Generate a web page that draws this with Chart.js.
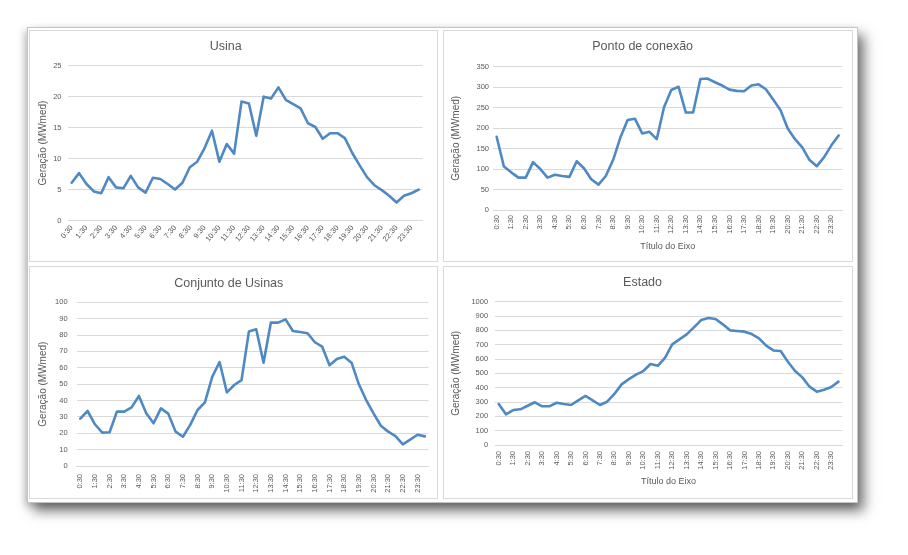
<!DOCTYPE html>
<html>
<head>
<meta charset="utf-8">
<script src="https://cdn.jsdelivr.net/npm/chart.js@4.4.1/dist/chart.umd.min.js"></script>
<style>
  html, body { margin: 0; padding: 0; background: #ffffff; }
  body { width: 908px; height: 555px; position: relative; overflow: hidden; }
  #frame {
    position: absolute; left: 27px; top: 27px; width: 831px; height: 476px;
    box-sizing: border-box; border: 1px solid #c4c4c4; background: #ffffff;
    box-shadow: 6px 8px 12px rgba(0,0,0,0.55), -3px 3px 7px rgba(0,0,0,0.18);
  }
  .panel { position: absolute; box-sizing: border-box; border: 1px solid #d9d9d9; background: #fff; }
  .panel canvas { position: absolute; left: -1px; top: -1px; }
</style>
</head>
<body>
<div id="frame"></div>
<div class="panel" style="left:29px;top:30px;width:409px;height:232px;"><canvas id="c1" width="409" height="232"></canvas></div>
<div class="panel" style="left:443px;top:30px;width:410px;height:232px;"><canvas id="c2" width="410" height="232"></canvas></div>
<div class="panel" style="left:29px;top:266px;width:409px;height:233px;"><canvas id="c3" width="409" height="233"></canvas></div>
<div class="panel" style="left:443px;top:266px;width:410px;height:233px;"><canvas id="c4" width="410" height="233"></canvas></div>
<script>
// ---- data ----
const timeLabels = ['0:30','1:00','1:30','2:00','2:30','3:00','3:30','4:00','4:30','5:00','5:30','6:00',
  '6:30','7:00','7:30','8:00','8:30','9:00','9:30','10:00','10:30','11:00','11:30','12:00',
  '12:30','13:00','13:30','14:00','14:30','15:00','15:30','16:00','16:30','17:00','17:30','18:00',
  '18:30','19:00','19:30','20:00','20:30','21:00','21:30','22:00','22:30','23:00','23:30','24:00'];

const usina = [6.1,7.65,5.9,4.7,4.4,7.0,5.35,5.2,7.2,5.35,4.5,6.9,6.7,5.9,5.0,6.1,8.6,9.5,11.7,14.5,9.5,12.35,10.8,19.2,
  18.9,13.7,20.0,19.7,21.5,19.5,18.8,18.1,15.7,15.1,13.2,14.1,14.1,13.3,10.9,8.9,7.0,5.7,4.9,4.0,2.9,4.0,4.4,5.0];

const pontoConexao = [179,106,92,79,79,117,100,79,86,83,81,119,102,75,62,83,122,177,220,223,187,191,173,251,
  293,301,238,238,320,321,312,304,294,291,290,304,307,295,270,244,199,173,153,122,107,129,158,182];

const conjuntoUsinas = [28.9,33.6,25.5,20.4,20.6,33.2,33.2,35.8,42.8,32.2,26.1,35.2,32.0,21.0,17.9,25.1,34.2,38.9,54.4,63.5,45.0,49.5,52.5,82.1,
  83.5,63.1,87.6,87.6,89.6,82.5,81.9,81.1,75.6,72.9,61.5,65.4,66.8,63.1,49.9,40.3,32.2,24.6,21.0,18.3,13.2,16.1,19.1,18.1];

const estado = [286,214,244,249,274,298,270,270,295,286,279,312,342,312,279,302,356,423,460,491,516,565,553,608,
  702,737,772,821,872,886,879,842,800,795,791,774,744,693,660,656,581,516,472,407,372,386,405,442];

const chartTitles = ['Usina', 'Ponto de conexão', 'Conjunto de Usinas', 'Estado'];
const yAxisTitle = 'Geração (MWmed)';
const xAxisTitle = 'Título do Eixo';
const yMaxes = [25, 350, 100, 1000];
const ySteps = [5, 50, 10, 100];

// ---- rendering ----
const FONT = "'Liberation Sans', Arial, sans-serif";
const TXT = '#595959';
const GRID = '#d9d9d9';
const LINE = '#4f89c4';

function makeChart(id, values, title, yMax, yStep, g) {
  const canvas = document.getElementById(id);
  const H = canvas.height;
  const titleSize = 12.5, titleLH = titleSize * 1.2;
  const yTitleSize = 10, yTitleLH = yTitleSize * 1.2;
  const xTitleSize = 9, xTitleLH = xTitleSize * 1.2;
  const tPadTop = g.titleCenter - titleLH / 2;
  const tPadBottom = g.chartTop - tPadTop - titleLH;
  return new Chart(canvas, {
    type: 'line',
    data: {
      labels: timeLabels,
      datasets: [{
        data: values,
        borderColor: LINE,
        borderWidth: 2.6,
        pointRadius: 0,
        pointHoverRadius: 0,
        tension: 0,
        fill: false,
        borderJoinStyle: 'round',
        borderCapStyle: 'round'
      }]
    },
    options: {
      responsive: false,
      animation: false,
      devicePixelRatio: 1,
      layout: { padding: { left: 0, right: g.padRight, top: 0, bottom: 0 } },
      plugins: {
        legend: { display: false },
        tooltip: { enabled: false },
        title: {
          display: true, text: title, color: TXT,
          font: { family: FONT, size: titleSize, weight: 'normal', lineHeight: 1.2 },
          padding: { top: tPadTop, bottom: tPadBottom }
        }
      },
      scales: {
        x: {
          type: 'category',
          offset: true,
          grid: { display: false, drawTicks: false },
          border: { display: true, color: GRID, width: 1 },
          ticks: {
            autoSkip: false,
            minRotation: g.rotation, maxRotation: g.rotation,
            padding: g.xTickPad,
            color: TXT,
            font: { family: FONT, size: 7.5 },
            callback: function (v, i) { return i % 2 === 0 ? timeLabels[i] : null; }
          },
          title: g.xTitleCenter ? {
            display: true, text: xAxisTitle, color: TXT,
            font: { family: FONT, size: xTitleSize, lineHeight: 1.2 },
            padding: { top: 0, bottom: H - g.xTitleCenter - xTitleLH / 2 }
          } : { display: false },
          afterFit: function (s) { s.height = g.xH; }
        },
        y: {
          min: 0, max: yMax,
          grid: { color: GRID, lineWidth: 1, drawTicks: false },
          border: { display: false },
          ticks: {
            stepSize: yStep,
            padding: g.yTickPad,
            color: TXT,
            font: { family: FONT, size: 7.5 },
            callback: function (v) { return String(v); }
          },
          title: {
            display: true, text: yAxisTitle, color: TXT,
            font: { family: FONT, size: yTitleSize, lineHeight: 1.2 },
            padding: { top: g.yTitleCenter - yTitleLH / 2, bottom: 0 }
          },
          afterFit: function (s) { s.width = g.yW; }
        }
      }
    }
  });
}

makeChart('c1', usina, chartTitles[0], yMaxes[0], ySteps[0],
  { yW: 39, xH: 41.5, padRight: 15.6, chartTop: 35.7, titleCenter: 16.5, yTitleCenter: 14, yTickPad: 6.5, xTickPad: 3, rotation: 50 });
makeChart('c2', pontoConexao, chartTitles[1], yMaxes[1], ySteps[1],
  { yW: 50, xH: 52, padRight: 10.7, chartTop: 36.7, titleCenter: 17, yTitleCenter: 13, yTickPad: 4, xTickPad: 5, rotation: 90, xTitleCenter: 216.5 });
makeChart('c3', conjuntoUsinas, chartTitles[2], yMaxes[2], ySteps[2],
  { yW: 47.6, xH: 33, padRight: 9.5, chartTop: 36.3, titleCenter: 17.5, yTitleCenter: 14, yTickPad: 9, xTickPad: 8, rotation: 90 });
makeChart('c4', estado, chartTitles[3], yMaxes[3], ySteps[3],
  { yW: 52.1, xH: 54, padRight: 10.9, chartTop: 35.7, titleCenter: 16.7, yTitleCenter: 13.5, yTickPad: 7, xTickPad: 6, rotation: 90, xTitleCenter: 215.5 });
</script>
</body>
</html>
